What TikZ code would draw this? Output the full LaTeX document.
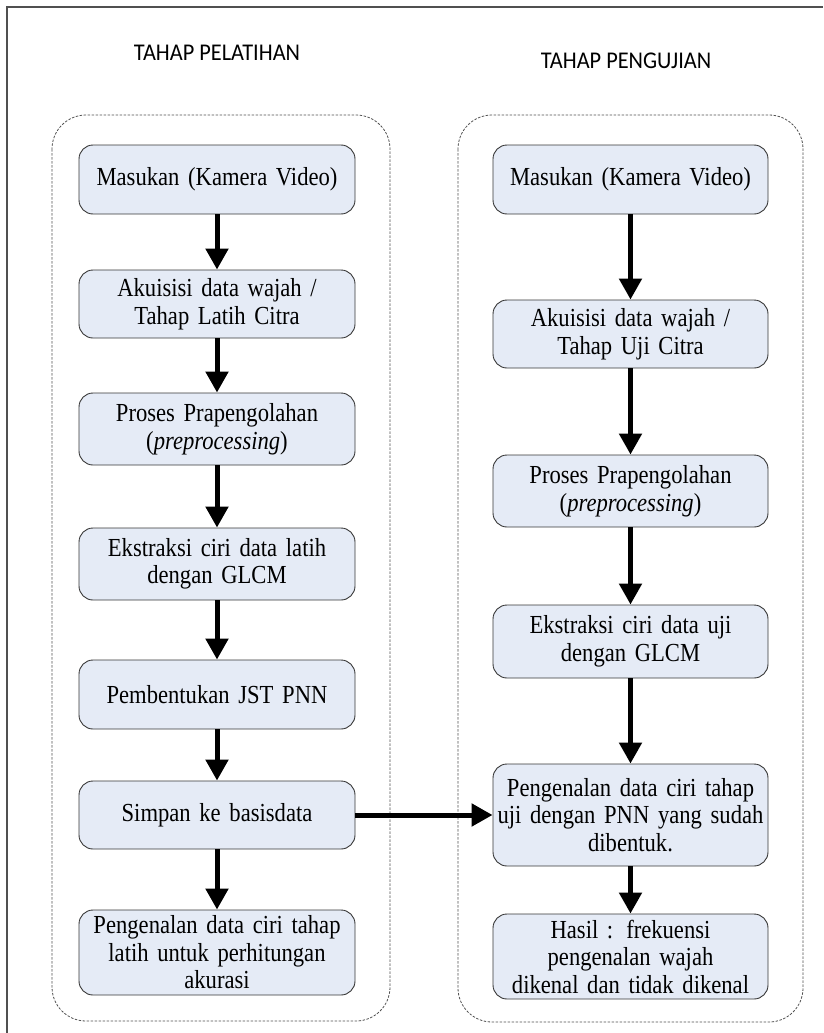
\documentclass[tikz,border=0pt]{standalone}
\usepackage{fontspec}
\usetikzlibrary{arrows.meta}
\newfontfamily\boxfont[FakeStretch=0.87,WordSpace=0.75]{Liberation Serif}
\newfontfamily\titlefont[FakeStretch=0.93]{Carlito}
\definecolor{boxfill}{RGB}{229,235,246}
\definecolor{boxline}{RGB}{55,55,55}
\definecolor{frameline}{RGB}{80,80,80}
\begin{document}
\begin{tikzpicture}[x=1pt,y=-1pt,
  procbox/.style={draw=boxline, line width=0.9pt, fill=boxfill, rounded corners=14pt,
    minimum width=276pt, inner sep=0pt, text width=272pt, align=center,
    font=\boxfont\fontsize{26}{27.5}\selectfont},
  flowarrow/.style={line width=5pt, -{Triangle[length=21pt,width=22pt]}},
  container/.style={draw=frameline, line width=0.8pt, dash pattern=on 2.5pt off 1.5pt, rounded corners=34pt},
  titletext/.style={font=\titlefont\fontsize{24}{28}\selectfont, anchor=base}
]
\useasboundingbox (0,0) rectangle (823,1033);
% outer frame
\draw[frameline, line width=1.2pt] (7,1033) -- (7,7) -- (823,7);
% titles
\node[titletext] (t1) at (217,61) {TAHAP PELATIHAN};
\node[titletext] (t2) at (626,68) {TAHAP PENGUJIAN};
% containers
\draw[container] (52,115) rectangle (390,1021);
\draw[container] (458,115) rectangle (803,1022);
% left column
\node[procbox, minimum height=69pt] (L1) at (217,179.5) {Masukan (Kamera Video)};
\node[procbox, minimum height=68pt] (L2) at (217,304) {Akuisisi data wajah /\\Tahap Latih Citra};
\node[procbox, minimum height=72pt] (L3) at (217,429) {Proses Prapengolahan\\(\textit{preprocessing})};
\node[procbox, minimum height=72pt] (L4) at (217,564) {Ekstraksi ciri data latih\\dengan GLCM};
\node[procbox, minimum height=69pt] (L5) at (217,694.5) {Pembentukan JST PNN};
\node[procbox, minimum height=68pt] (L6) at (217,815) {Simpan ke basisdata};
\node[procbox, minimum height=85pt] (L7) at (217,952.5) {Pengenalan data ciri tahap\\latih untuk perhitungan\\akurasi};
% right column
\node[procbox, minimum width=275pt, minimum height=69pt] (R1) at (630.5,179.5) {Masukan (Kamera Video)};
\node[procbox, minimum width=275pt, minimum height=68pt] (R2) at (630.5,334) {Akuisisi data wajah /\\Tahap Uji Citra};
\node[procbox, minimum width=275pt, minimum height=72pt] (R3) at (630.5,491) {Proses Prapengolahan\\(\textit{preprocessing})};
\node[procbox, minimum width=275pt, minimum height=73pt] (R4) at (630.5,641.5) {Ekstraksi ciri data uji\\dengan GLCM};
\node[procbox, minimum width=275pt, minimum height=102pt] (R5) at (630.5,815) {Pengenalan data ciri tahap\\uji dengan PNN yang sudah\\dibentuk.};
\node[procbox, minimum width=275pt, minimum height=85pt] (R6) at (630.5,956.5) {Hasil : frekuensi\\pengenalan wajah\\dikenal dan tidak dikenal};
% arrows
\draw[flowarrow] (L1.south) -- (L2.north);
\draw[flowarrow] (L2.south) -- (L3.north);
\draw[flowarrow] (L3.south) -- (L4.north);
\draw[flowarrow] (L4.south) -- (L5.north);
\draw[flowarrow] (L5.south) -- (L6.north);
\draw[flowarrow] (L6.south) -- (L7.north);
\draw[flowarrow] (R1.south) -- (R2.north);
\draw[flowarrow] (R2.south) -- (R3.north);
\draw[flowarrow] (R3.south) -- (R4.north);
\draw[flowarrow] (R4.south) -- (R5.north);
\draw[flowarrow] (R5.south) -- (R6.north);
\draw[flowarrow] (L6.east) -- (R5.west);
\end{tikzpicture}
\end{document}
